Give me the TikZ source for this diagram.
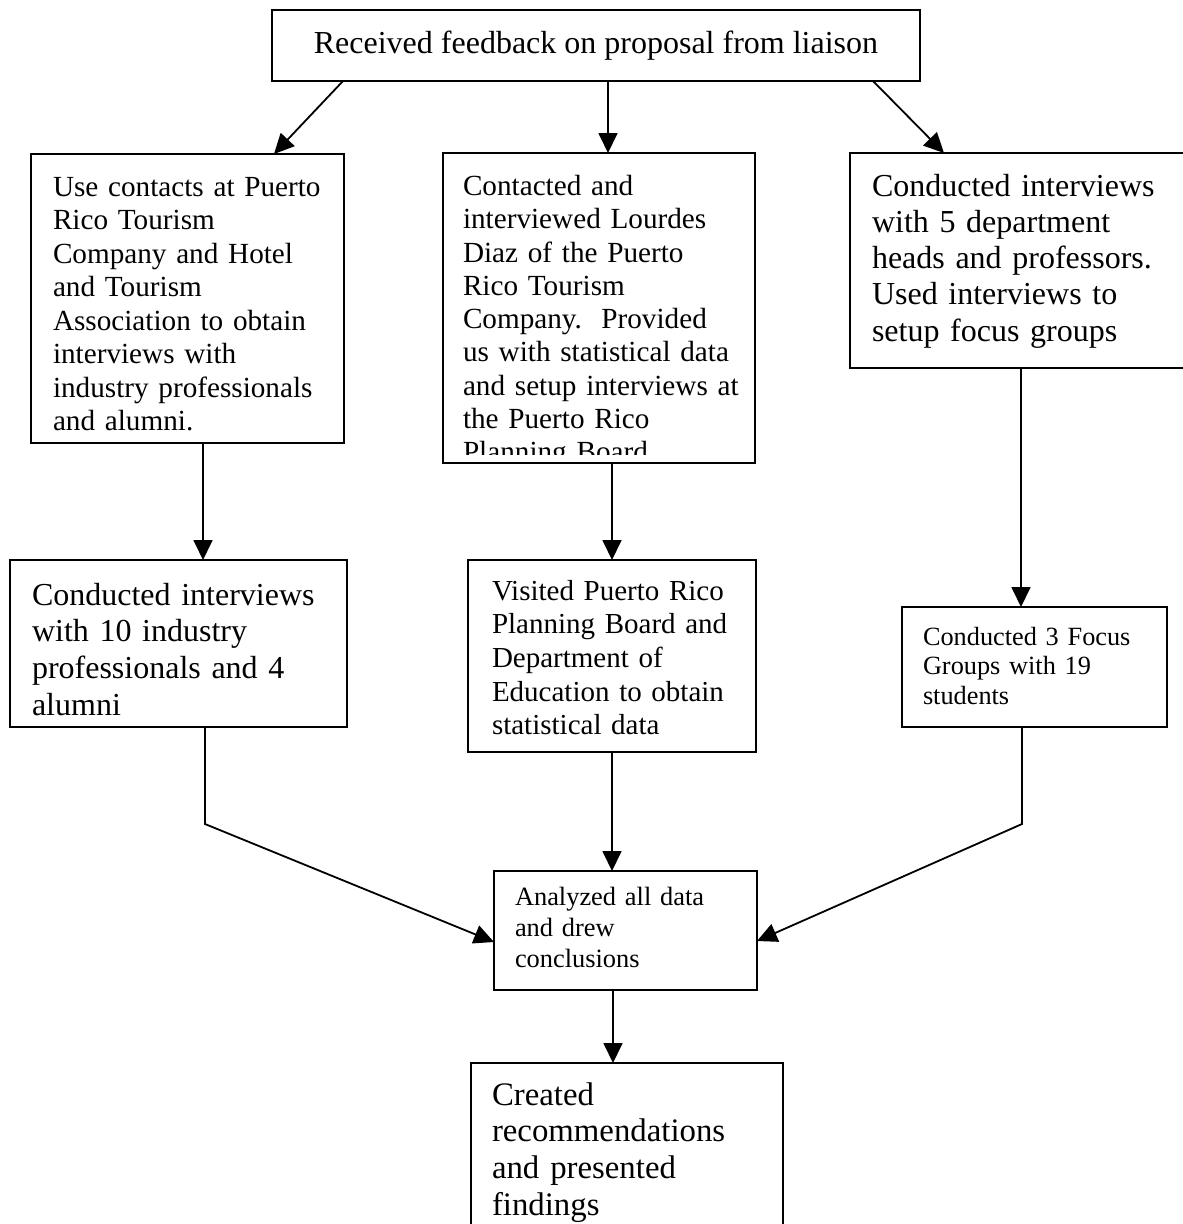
\documentclass[tikz,border=0pt]{standalone}
\usepackage{fontspec}
\setmainfont{Liberation Serif}
\usetikzlibrary{arrows.meta}
\begin{document}
\begin{tikzpicture}[x=1pt,y=-1pt,
  box/.style={draw, line width=1.8pt, fill=white, inner sep=0pt, outer sep=0pt, anchor=north west},
  txt/.style={anchor=base west, inner sep=0pt, outer sep=0pt, align=left, text width=#1},
  arr/.style={line width=1.8pt, -{Triangle[length=20pt,width=19pt]}}]
\useasboundingbox (0,0) rectangle (1183,1224);
\clip (0,0) rectangle (1183,1224);
% boxes
\node[box, minimum width=648pt, minimum height=71pt, font=\fontsize{32pt}{37pt}\selectfont] (top) at (272,10) {Received feedback on proposal from liaison};
\node[box, minimum width=313pt, minimum height=289pt] (A) at (31,154) {};
\node[box, minimum width=312pt, minimum height=310pt] (B) at (443,153) {};
\node[box, minimum width=350pt, minimum height=215pt] (C) at (850,153) {};
\node[box, minimum width=337pt, minimum height=167pt] (D) at (10,560) {};
\node[box, minimum width=288pt, minimum height=192pt] (E) at (468,560) {};
\node[box, minimum width=265pt, minimum height=120pt] (F) at (902,607) {};
\node[box, minimum width=263pt, minimum height=119pt] (G) at (494,871) {};
\node[box, minimum width=312pt, minimum height=190pt] (H) at (471,1063) {};
% texts
\node[txt=300pt, font=\fontsize{29.2pt}{33.5pt}\selectfont] (tA) at (53,196)
  {Use contacts at Puerto\\Rico Tourism\\Company and Hotel\\and Tourism\\Association to obtain\\interviews with\\industry professionals\\and alumni.};
\begin{scope}
  \clip (443,153) rectangle (755,454);
  \node[txt=300pt, font=\fontsize{29.2pt}{33.25pt}\selectfont] (tB) at (463,195.5)
    {Contacted and\\interviewed Lourdes\\Diaz of the Puerto\\Rico Tourism\\Company.\ \ Provided\\us with statistical data\\and setup interviews at\\the Puerto Rico\\Planning Board};
\end{scope}
\node[txt=320pt, font=\fontsize{32pt}{36.3pt}\selectfont] (tC) at (872,196)
  {Conducted interviews\\with 5 department\\heads and professors.\\Used interviews to\\setup focus groups};
\node[txt=320pt, font=\fontsize{32pt}{36.7pt}\selectfont] (tD) at (32,605)
  {Conducted interviews\\with 10 industry\\professionals and 4\\alumni};
\node[txt=270pt, font=\fontsize{29pt}{33.7pt}\selectfont] (tE) at (492,600)
  {Visited Puerto Rico\\Planning Board and\\Department of\\Education to obtain\\statistical data};
\node[txt=240pt, font=\fontsize{26.3pt}{29.5pt}\selectfont] (tF) at (923,645)
  {Conducted 3 Focus\\Groups with 19\\students};
\node[txt=240pt, font=\fontsize{26.4pt}{31pt}\selectfont] (tG) at (515,905)
  {Analyzed all data\\and drew\\conclusions};
\node[txt=290pt, font=\fontsize{32.8pt}{36.7pt}\selectfont] (tH) at (492,1105)
  {Created\\recommendations\\and presented\\findings};
% connectors
\draw[arr] ([xshift=71pt]top.south west) -- ([xshift=243pt]A.north west);
\draw[arr] ([xshift=336pt]top.south west) -- ([xshift=336pt]top.south west |- B.north);
\draw[arr] ([xshift=601pt]top.south west) -- ([xshift=94pt]C.north west);
\draw[arr] ([xshift=172pt]A.south west) -- ([xshift=172pt]A.south west |- D.north);
\draw[arr] ([xshift=169pt]B.south west) -- ([xshift=169pt]B.south west |- E.north);
\draw[arr] ([xshift=171pt]C.south west) -- ([xshift=171pt]C.south west |- F.north);
\draw[arr] ([xshift=195pt]D.south west) -- ++(0,97) -- ([yshift=-71pt]G.north west);
\draw[arr] ([xshift=144pt]E.south west) -- ([xshift=144pt]E.south west |- G.north);
\draw[arr] ([xshift=120pt]F.south west) -- ++(0,97) -- ([yshift=-70pt]G.north east);
\draw[arr] ([xshift=119pt]G.south west) -- ([xshift=119pt]G.south west |- H.north);
\end{tikzpicture}
\end{document}
